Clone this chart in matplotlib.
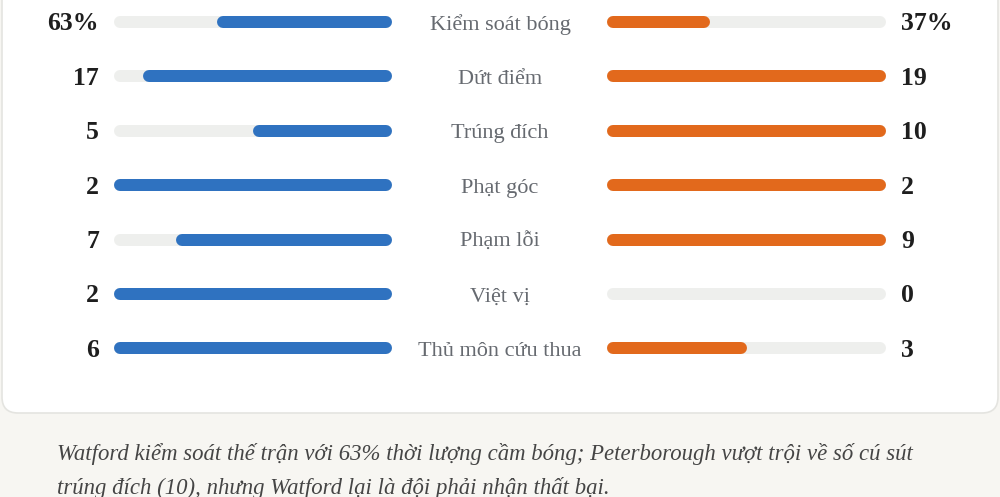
import matplotlib
matplotlib.use('Agg')
import matplotlib.pyplot as plt
from matplotlib.patches import FancyBboxPatch

# stats: Watford (left) vs Peterborough (right)
labels = ['Kiểm soát bóng', 'Dứt điểm', 'Trúng đích', 'Phạt góc', 'Phạm lỗi', 'Việt vị', 'Thủ môn cứu thua']
home = [63, 17, 5, 2, 7, 2, 6]
away = [37, 19, 10, 2, 9, 0, 3]
is_pct = [True, False, False, False, False, False, False]
caption = ('Watford kiểm soát thế trận với 63% thời lượng cầm bóng; Peterborough vượt trội về số cú sút\n'
           'trúng đích (10), nhưng Watford lại là đội phải nhận thất bại.')

BLUE = '#2f72c0'
ORANGE = '#e2691c'
TRACK = '#eeefed'
W, H = 1000, 497

fig = plt.figure(figsize=(10, 4.97), dpi=100)
fig.patch.set_facecolor('#f7f6f2')
ax = fig.add_axes([0, 0, 1, 1])
ax.set_xlim(0, W)
ax.set_ylim(H, 0)
ax.axis('off')

# white card with rounded bottom corners
card = FancyBboxPatch((2, -40), 996, 453, boxstyle='round,pad=0,rounding_size=16',
                      facecolor='white', edgecolor='#e4e4e0', linewidth=1.2, zorder=1)
ax.add_patch(card)

lw = 12 * 72 / 100  # 12px thick bars
cap = 6
lx0, lx1 = 114, 392
rx0, rx1 = 607, 886
y0, dy = 22, 54.4

for i, lab in enumerate(labels):
    y = y0 + i * dy
    h, a = home[i], away[i]
    if is_pct[i]:
        fh, fa = h / 100, a / 100
    else:
        m = max(h, a)
        fh, fa = h / m, a / m
    # tracks
    ax.plot([lx0 + cap, lx1 - cap], [y, y], color=TRACK, lw=lw, solid_capstyle='round', zorder=2)
    ax.plot([rx0 + cap, rx1 - cap], [y, y], color=TRACK, lw=lw, solid_capstyle='round', zorder=2)
    # fills
    if fh > 0:
        ax.plot([lx1 - (lx1 - lx0) * fh + cap, lx1 - cap], [y, y], color=BLUE, lw=lw,
                solid_capstyle='round', zorder=3)
    if fa > 0:
        ax.plot([rx0 + cap, rx0 + (rx1 - rx0) * fa - cap], [y, y], color=ORANGE, lw=lw,
                solid_capstyle='round', zorder=3)
    ht = f'{h}%' if is_pct[i] else str(h)
    at = f'{a}%' if is_pct[i] else str(a)
    ax.text(99, y + 2, ht, ha='right', va='center', fontsize=18.5, fontweight='bold',
            family='Liberation Serif', color='#1e1e1e', zorder=4)
    ax.text(901, y + 2, at, ha='left', va='center', fontsize=18.5, fontweight='bold',
            family='Liberation Serif', color='#1e1e1e', zorder=4)
    ax.text(500, y + 3, lab, ha='center', va='center', fontsize=16,
            family='Liberation Serif', color='#666a70', zorder=4)

ax.text(57, 471, caption, ha='left', va='center', fontsize=16.4, style='italic',
        family='Liberation Serif', color='#454545', linespacing=1.7, zorder=4)

fig.savefig('out.png', dpi=100, facecolor=fig.get_facecolor())
plt.close()
